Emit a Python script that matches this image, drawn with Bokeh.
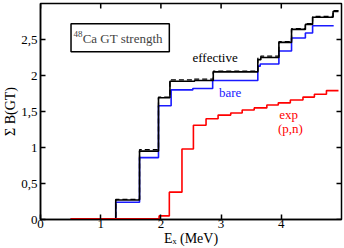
import math
from bokeh.plotting import figure
from bokeh.models import Label, BoxAnnotation, FixedTicker, Range1d
from bokeh.embed import file_html
from bokeh.resources import INLINE

# ---- data ----
eff_x = [0.5, 1.25, 1.645, 1.96, 2.15, 2.56, 2.87, 3.61, 3.66, 3.96, 4.17, 4.40, 4.52, 4.86, 4.95]
eff_y = [0.0, 0.27, 0.95, 1.69, 1.92, 1.93, 2.05, 2.22, 2.25, 2.46, 2.64, 2.71, 2.81, 2.89, 2.89]

eff2_x = [0.5, 1.25, 1.645, 1.96, 2.15, 2.56, 2.87, 3.61, 3.66, 3.96, 4.17, 4.40, 4.52, 4.86, 4.95]
eff2_y = [0.0, 0.28, 0.97, 1.70, 1.94, 1.95, 2.06, 2.24, 2.27, 2.47, 2.65, 2.72, 2.82, 2.90, 2.90]

bare_x = [0.5, 1.25, 1.645, 1.96, 2.17, 2.53, 2.86, 3.61, 3.65, 3.96, 4.17, 4.40, 4.52, 4.87]
bare_y = [0.0, 0.24, 0.86, 1.58, 1.80, 1.82, 1.93, 2.13, 2.16, 2.34, 2.52, 2.59, 2.69, 2.69]

exp_x = [0.5, 1.97, 2.14, 2.35, 2.54, 2.75, 2.95, 3.16, 3.35, 3.55, 3.76, 3.95, 4.15, 4.36, 4.55, 4.75, 4.95]
exp_y = [0.01, 0.05, 0.38, 0.98, 1.31, 1.40, 1.45, 1.48, 1.52, 1.55, 1.59, 1.62, 1.66, 1.70, 1.74, 1.79, 1.79]

x_ticks = [0, 1, 2, 3, 4]
y_ticks = [0, 0.5, 1, 1.5, 2, 2.5]
y_tick_labels = ["0", "0,5", "1", "1,5", "2", "2,5"]

X_MAX = 5.0
Y_MAX = 3.0
FONT = "Liberation Serif"

p = figure(width=344, height=248, output_backend="svg", toolbar_location=None,
           x_range=Range1d(0, X_MAX), y_range=Range1d(0, Y_MAX),
           min_border_left=30, min_border_right=3, min_border_top=3, min_border_bottom=28)
p.grid.visible = False
p.outline_line_color = "black"
p.outline_line_width = 1.5
p.background_fill_color = "white"
p.border_fill_color = "white"

p.step(bare_x, bare_y, mode="after", line_color="#1a1aff", line_width=1.6)
p.step(eff_x, eff_y, mode="after", line_color="black", line_width=1.6)
p.step(eff2_x, eff2_y, mode="after", line_color="black", line_width=1.3, line_dash="5 3")
p.step(exp_x, exp_y, mode="after", line_color="#ff0000", line_width=1.6)

# mirrored inward ticks on top and right
p.scatter(x=x_ticks, y=[Y_MAX] * len(x_ticks), marker="dash", angle=math.pi / 2,
          size=10, line_color="black", line_width=1.5)
p.scatter(x=[X_MAX] * len(y_ticks), y=y_ticks, marker="dash",
          size=10, line_color="black", line_width=1.5)

# axes
for ax in (p.xaxis[0], p.yaxis[0]):
    ax.major_tick_in = 5
    ax.major_tick_out = 0
    ax.minor_tick_line_color = None
    ax.axis_line_width = 1.5
    ax.major_tick_line_width = 1.5
    ax.major_label_text_font = FONT
    ax.major_label_text_font_size = "13px"
    ax.major_label_text_color = "black"
    ax.axis_label_text_font = FONT
    ax.axis_label_text_font_size = "14px"
    ax.axis_label_text_font_style = "normal"
    ax.axis_label_text_color = "black"
    ax.axis_label_standoff = 0
p.xaxis.ticker = FixedTicker(ticks=x_ticks)
p.yaxis.ticker = FixedTicker(ticks=y_ticks)
p.yaxis.major_label_overrides = {t: l for t, l in zip(y_ticks, y_tick_labels)}
p.xaxis.major_label_standoff = 0
p.yaxis.major_label_standoff = 3
p.xaxis.axis_label = "Eₓ (MeV)"
p.yaxis.axis_label = "Σ B(GT)"

# title box
p.add_layout(BoxAnnotation(left=0.507, right=2.14, bottom=2.33, top=2.72,
                           fill_color="white", fill_alpha=1.0,
                           line_color="black", line_alpha=1.0, line_width=1.5,
                           level="annotation"))
p.add_layout(Label(x=0.547, y=2.58, text="48", text_font=FONT, text_font_size="9px",
                   text_align="left", text_baseline="middle"))
p.add_layout(Label(x=0.70, y=2.51, text="Ca GT strength", text_font=FONT,
                   text_font_size="13px", text_align="left", text_baseline="middle"))

# series labels
p.add_layout(Label(x=2.90, y=2.25, text="effective", text_font=FONT, text_font_size="13px",
                   text_align="center", text_baseline="middle", text_color="black"))
p.add_layout(Label(x=3.15, y=1.77, text="bare", text_font=FONT, text_font_size="13px",
                   text_align="center", text_baseline="middle", text_color="#1a1aff"))
p.add_layout(Label(x=4.12, y=1.46, text="exp", text_font=FONT, text_font_size="13px",
                   text_align="center", text_baseline="middle", text_color="#ff0000"))
p.add_layout(Label(x=4.15, y=1.27, text="(p,n)", text_font=FONT, text_font_size="13px",
                   text_align="center", text_baseline="middle", text_color="#ff0000"))

open("out.html", "w").write(file_html(p, INLINE))
